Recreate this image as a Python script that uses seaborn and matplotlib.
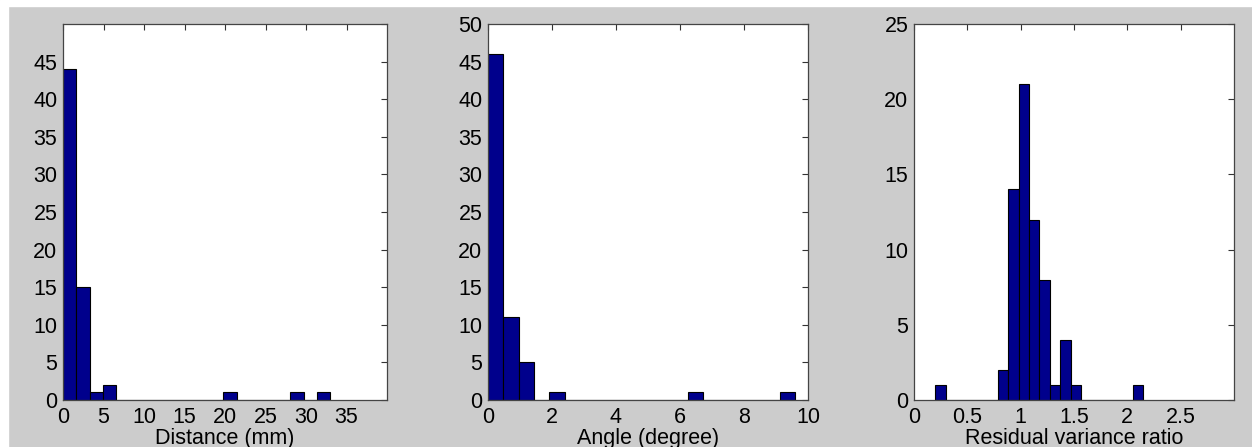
import matplotlib
matplotlib.use("Agg")
import matplotlib.pyplot as plt
import numpy as np
import pandas as pd
import seaborn as sns

# histogram counts (20 bins each, MATLAB hist style)
dist_range = (0.0, 33.0)
dist_counts = [44, 15, 1, 2, 0, 0, 0, 0, 0, 0, 0, 0, 1, 0, 0, 0, 0, 1, 0, 1]

angle_range = (0.0, 9.6)
angle_counts = [46, 11, 5, 0, 1, 0, 0, 0, 0, 0, 0, 0, 0, 1, 0, 0, 0, 0, 0, 1]

ratio_range = (0.2, 2.15)
ratio_counts = [1, 0, 0, 0, 0, 0, 2, 14, 21, 12, 8, 1, 4, 1, 0, 0, 0, 0, 0, 1]

panels = [
    dict(rng=dist_range, counts=dist_counts, label="Distance (mm)",
         xlim=(0, 40), xticks=[0, 5, 10, 15, 20, 25, 30, 35],
         ylim=(0, 50), yticks=[0, 5, 10, 15, 20, 25, 30, 35, 40, 45],
         yminor=[50], pos=[63, 24, 387, 400]),
    dict(rng=angle_range, counts=angle_counts, label="Angle (degree)",
         xlim=(0, 10), xticks=[0, 2, 4, 6, 8, 10],
         ylim=(0, 50), yticks=[0, 5, 10, 15, 20, 25, 30, 35, 40, 45, 50],
         yminor=[], pos=[488, 24, 808, 400]),
    dict(rng=ratio_range, counts=ratio_counts, label="Residual variance ratio",
         xlim=(0, 3), xticks=[0, 0.5, 1, 1.5, 2, 2.5],
         ylim=(0, 25), yticks=[0, 5, 10, 15, 20, 25],
         yminor=[], pos=[914, 24, 1234, 400]),
]

sns.set_style("white")
plt.rcParams['font.family'] = ['Liberation Sans', 'DejaVu Sans']

W, H = 1252, 447
fig = plt.figure(figsize=(W / 100, H / 100), dpi=100, facecolor="#cccccc")
# white margin at top and left of the screenshot
fig.patches.append(plt.Rectangle((0, 1 - 6 / H), 1, 6 / H, transform=fig.transFigure,
                                 color="white", zorder=-1))
fig.patches.append(plt.Rectangle((0, 0), 8 / W, 1, transform=fig.transFigure,
                                 color="white", zorder=-1))

for p in panels:
    l, t, r, b = p["pos"]
    ax = fig.add_axes([l / W, 1 - b / H, (r - l) / W, (b - t) / H])
    lo, hi = p["rng"]
    nb = len(p["counts"])
    width = (hi - lo) / nb
    centers = lo + width * (np.arange(nb) + 0.5)
    df = pd.DataFrame({"x": centers, "n": p["counts"]})
    sns.histplot(data=df, x="x", weights="n", binwidth=width, binrange=(lo, hi),
                 ax=ax, color="#00008c", edgecolor="black", linewidth=0.8, alpha=1)
    ax.set_xlim(*p["xlim"])
    ax.set_ylim(*p["ylim"])
    ax.set_xticks(p["xticks"])
    ax.set_xticklabels([f"{v:g}" for v in p["xticks"]])
    ax.set_yticks(p["yticks"])
    if p["yminor"]:
        ax.set_yticks(p["yminor"], minor=True)
    ax.tick_params(which="both", direction="in", top=True, right=True,
                   length=4, width=0.8, color="#333333", labelsize=15.5,
                   labelcolor="black")
    ax.tick_params(axis="x", pad=5)
    ax.tick_params(axis="y", pad=4)
    ax.tick_params(which="minor", labelleft=False)
    ax.set_xlabel(p["label"], fontsize=15.5, labelpad=0, color="black")
    ax.set_ylabel("")
    for s in ax.spines.values():
        s.set_color("#444444")
        s.set_linewidth(0.9)
    ax.set_facecolor("white")

fig.savefig("out.png", dpi=100, facecolor=fig.get_facecolor())
